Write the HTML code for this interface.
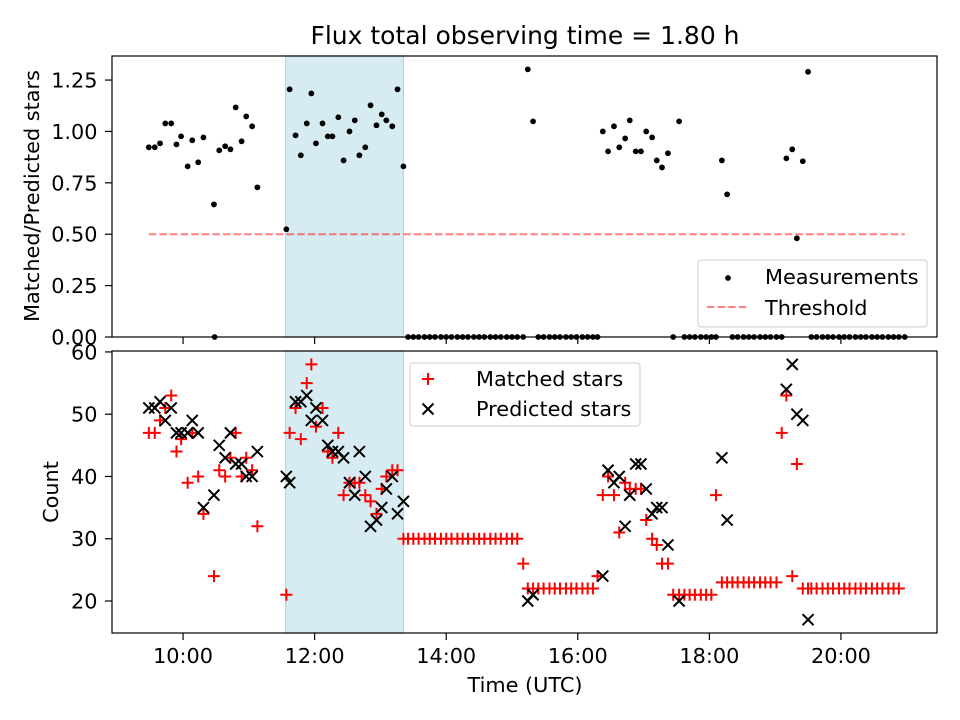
<!DOCTYPE html>
<html><head><meta charset="utf-8"><style>
body{margin:0;background:#fff}
svg{display:block;font-family:"DejaVu Sans","Liberation Sans",sans-serif}
</style></head><body>
<svg id="fig" width="960" height="720" viewBox="0 0 960 720">
<rect width="960" height="720" fill="#fff"/>
<text x="525" y="44" font-size="25" text-anchor="middle">Flux total observing time = 1.80 h</text>
<g id="topPanel"></g>
<g id="botPanel"></g>
</svg>
<script>
// ---- data ----
const ratioTimes = [9.48,9.57,9.65,9.73,9.82,9.90,9.97,10.07,10.14,10.23,10.31,10.47,10.48,10.55,10.64,10.72,10.80,10.89,10.96,11.05,11.13,
11.57,11.62,11.71,11.79,11.88,11.95,12.02,12.12,12.20,12.27,12.36,12.44,12.53,12.61,12.68,12.77,12.85,12.94,13.02,13.09,13.18,13.26,13.35,
13.42,13.50,13.58,13.67,13.75,13.83,13.92,14.00,14.08,14.17,14.25,14.33,14.42,14.50,14.58,14.67,14.75,14.83,14.92,15.00,15.08,15.17,
15.24,15.32,15.40,15.48,15.57,15.65,15.73,15.82,15.90,15.98,16.07,16.15,16.23,16.30,
16.38,16.46,16.55,16.63,16.72,16.79,16.88,16.96,17.04,17.13,17.20,17.28,17.37,17.45,17.54,
17.62,17.70,17.78,17.87,17.95,18.03,18.10,18.19,18.27,
18.35,18.43,18.52,18.60,18.68,18.77,18.85,18.93,19.02,19.10,
19.17,19.26,19.33,19.42,19.50,
19.55,19.63,19.72,19.80,19.88,19.97,20.05,20.13,20.22,20.30,20.38,20.47,20.55,20.63,20.72,20.80,20.88,20.97];
const ratios = [0.923,0.923,0.942,1.039,1.039,0.937,0.976,0.830,0.957,0.850,0.971,0.645,0,0.908,0.928,0.913,1.117,0.952,1.073,1.025,0.728,
0.524,1.205,0.981,0.884,1.039,1.185,0.942,1.039,0.976,0.976,1.069,0.859,1.0,1.054,0.884,0.923,1.127,1.03,1.083,1.054,1.025,1.205,0.830,
0,0,0,0,0,0,0,0,0,0,0,0,0,0,0,0,0,0,0,0,0,0,
1.302,1.049,0,0,0,0,0,0,0,0,0,0,0,0,
1.0,0.903,1.025,0.923,0.966,1.054,0.903,0.903,1.0,0.971,0.859,0.825,0.894,0,1.049,
0,0,0,0,0,0,0,0.859,0.694,
0,0,0,0,0,0,0,0,0,0,
0.869,0.913,0.48,0.855,1.29,
0,0,0,0,0,0,0,0,0,0,0,0,0,0,0,0,0,0];
const countTimes = [9.48,9.57,9.65,9.73,9.82,9.90,9.97,10.07,10.14,10.23,10.31,10.47,10.55,10.64,10.72,10.80,10.89,10.96,11.05,11.13,
11.57,11.62,11.71,11.79,11.88,11.95,12.02,12.12,12.20,12.27,12.36,12.44,12.53,12.61,12.68,12.77,12.85,12.94,13.02,13.09,13.18,13.26,13.35,
13.42,13.50,13.58,13.67,13.75,13.83,13.92,14.00,14.08,14.17,14.25,14.33,14.42,14.50,14.58,14.67,14.75,14.83,14.92,15.00,15.08,15.17,
15.24,15.32,15.40,15.48,15.57,15.65,15.73,15.82,15.90,15.98,16.07,16.15,16.23,16.30,
16.38,16.46,16.55,16.63,16.72,16.79,16.88,16.96,17.04,17.13,17.20,17.28,17.37,17.45,17.54,
17.62,17.70,17.78,17.87,17.95,18.03,18.10,18.19,18.27,
18.35,18.43,18.52,18.60,18.68,18.77,18.85,18.93,19.02,19.10,
19.17,19.26,19.33,19.42,19.50,
19.55,19.63,19.72,19.80,19.88,19.97,20.05,20.13,20.22,20.30,20.38,20.47,20.55,20.63,20.72,20.80,20.88,20.97];
const matched = [47,47,49,51,53,44,46,39,47,40,34,24,41,40,43,47,40,43,41,32,
21,47,51,46,55,58,48,51,44,43,47,37,39,39,39,37,36,34,38,40,41,41,30,
30,30,30,30,30,30,30,30,30,30,30,30,30,30,30,30,30,30,30,30,30,
26,22,22,22,22,22,22,22,22,22,22,22,22,22,
24,37,40,37,31,39,38,38,38,33,30,29,26,26,21,
21,21,21,21,21,21,21,37,23,
23,23,23,23,23,23,23,23,23,23,
47,53,24,42,22,
22,22,22,22,22,22,22,22,22,22,22,22,22,22,22,22,22,22];
const predicted = [51,51,52,49,51,47,47,47,49,47,35,37,45,43,47,42,42,40,40,44,
40,39,52,52,53,49,51,49,45,44,44,43,39,37,44,40,32,33,35,38,40,34,36,
null,null,null,null,null,null,null,null,null,null,null,null,null,null,null,null,null,null,null,null,null,null,
20,21,null,null,null,null,null,null,null,null,null,null,null,null,
24,41,39,40,32,37,42,42,38,34,35,35,29,null,20,
null,null,null,null,null,null,null,43,33,
null,null,null,null,null,null,null,null,null,null,
54,58,50,49,17,
null,null,null,null,null,null,null,null,null,null,null,null,null,null,null,null,null,null];
const ratioTicks = [0,0.25,0.5,0.75,1.0,1.25];
const countTicks = [20,30,40,50,60];
const timeTicks = [10,12,14,16,18,20];
const threshold = 0.5;
const shadeRange = [11.56,13.35];
const thresholdRange = [9.48,20.97];

// ---- layout ----
const NS='http://www.w3.org/2000/svg';
const L=112,R=937, T1=56,B1=337, T2=351,B2=633;
const xmin=8.92,xmax=21.46;
const X=t=>L+(t-xmin)/(xmax-xmin)*(R-L);
const Y1=v=>B1-(v-0)/(1.367-0)*(B1-T1);
const Y2=v=>B2-(v-14.86)/(60.15-14.86)*(B2-T2);
const FS=20.8;
function mk(tag,attrs,parent){const e=document.createElementNS(NS,tag);for(const k in attrs)e.setAttribute(k,attrs[k]);parent.appendChild(e);return e;}
const gTop=document.getElementById('topPanel'),gBot=document.getElementById('botPanel');

function panel(g,T,B){
  const s=mk('rect',{x:X(shadeRange[0]),y:T,width:X(shadeRange[1])-X(shadeRange[0]),height:B-T,fill:'#add8e6','fill-opacity':0.5,stroke:'#add8e6','stroke-width':1.2},g);
  
  
}
panel(gTop,T1,B1);panel(gBot,T2,B2);

const th=mk('line',{x1:X(thresholdRange[0]),x2:X(thresholdRange[1]),y1:Y1(threshold),y2:Y1(threshold),stroke:'#ff0000','stroke-opacity':0.5,'stroke-width':2,'stroke-dasharray':'7.4,3.2'},gTop);



ratioTimes.forEach((t,i)=>{
  const c=mk('circle',{cx:X(t),cy:Y1(ratios[i]),r:2.9,fill:'#000'},gTop);
  
  
});

const h=6;
countTimes.forEach((t,i)=>{
  const x=X(t),y=Y2(matched[i]);
  const p=mk('path',{d:`M${x-h} ${y}H${x+h}M${x} ${y-h}V${y+h}`,stroke:'#ff0000','stroke-width':2,fill:'none'},gBot);
  
  
});
countTimes.forEach((t,i)=>{
  if(predicted[i]===null)return;
  const x=X(t),y=Y2(predicted[i]),k=5.5;
  const p=mk('path',{d:`M${x-k} ${y-k}L${x+k} ${y+k}M${x-k} ${y+k}L${x+k} ${y-k}`,stroke:'#000','stroke-width':2,fill:'none'},gBot);
  
  
});

[[gTop,T1,B1],[gBot,T2,B2]].forEach(([g,T,B])=>{
  const f=mk('rect',{x:L,y:T,width:R-L,height:B-T,fill:'none',stroke:'#000','stroke-width':1.2},g);
  
  
  timeTicks.forEach(t=>{
    const tk=mk('line',{x1:X(t),x2:X(t),y1:B,y2:B+7,stroke:'#000','stroke-width':1.2},g);
    
    
  });
});
ratioTicks.forEach(v=>{
  const tk=mk('line',{x1:L-7,x2:L,y1:Y1(v),y2:Y1(v),stroke:'#000','stroke-width':1.2},gTop);
  
  
  const tx=mk('text',{x:L-14.5,y:Y1(v)+7.5,'font-size':FS,'text-anchor':'end'},gTop);
  tx.textContent=v.toFixed(2);
  
  
});
countTicks.forEach(v=>{
  const tk=mk('line',{x1:L-7,x2:L,y1:Y2(v),y2:Y2(v),stroke:'#000','stroke-width':1.2},gBot);
  
  
  const tx=mk('text',{x:L-14.5,y:Y2(v)+7.5,'font-size':FS,'text-anchor':'end'},gBot);
  tx.textContent=v;
  
  
});
timeTicks.forEach(t=>{
  const tx=mk('text',{x:X(t),y:B2+30,'font-size':FS,'text-anchor':'middle'},gBot);
  tx.textContent=t+':00';
  
  
});
</script>
<svg style="position:absolute;left:0;top:0" width="960" height="720">
<text x="39" y="196" font-size="20.8" font-family="DejaVu Sans, Liberation Sans, sans-serif" text-anchor="middle" transform="rotate(-90 39 196)">Matched/Predicted stars</text>
<text x="58" y="492" font-size="20.8" font-family="DejaVu Sans, Liberation Sans, sans-serif" text-anchor="middle" transform="rotate(-90 58 492)">Count</text>
<text x="525" y="692" font-size="20.8" font-family="DejaVu Sans, Liberation Sans, sans-serif" text-anchor="middle">Time (UTC)</text>
<g font-family="DejaVu Sans, Liberation Sans, sans-serif" font-size="20.8">
<rect x="698" y="260" width="229" height="67" rx="3" fill="#fff" fill-opacity="0.85" stroke="#ccc"/>
<circle cx="728" cy="278" r="2.9" fill="#000"/>
<text x="765" y="284">Measurements</text>
<line x1="707" x2="748" y1="307" y2="307" stroke="#ff8080" stroke-width="2" stroke-dasharray="7.4,3.2"/>
<text x="765" y="315">Threshold</text>
</g>
<g font-family="DejaVu Sans, Liberation Sans, sans-serif" font-size="20.8">
<rect x="410" y="363" width="230" height="63" rx="3" fill="#fff" fill-opacity="0.85" stroke="#ccc"/>
<path d="M422 379H434M428 373V385" stroke="#f00" stroke-width="2"/>
<text x="476" y="386">Matched stars</text>
<path d="M422.5 403.5L433.5 414.5M422.5 414.5L433.5 403.5" stroke="#000" stroke-width="2"/>
<text x="476" y="416">Predicted stars</text>
</g>
</svg>
</body></html>
